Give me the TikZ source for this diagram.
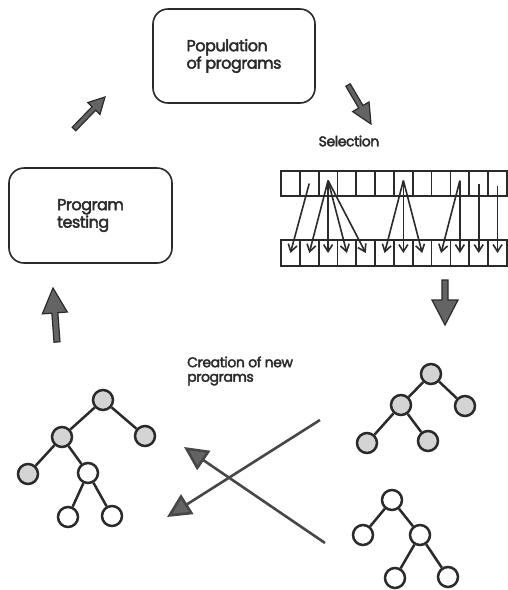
\documentclass[tikz,border=0pt]{standalone}
\usepackage{fontspec}
\setmainfont{Poppins}[FakeBold=2.6, LetterSpace=-3]
\usetikzlibrary{arrows.meta,calc}
\definecolor{ink}{HTML}{2A2A2A}
\definecolor{arrfill}{HTML}{646464}
\definecolor{nodefill}{HTML}{D4D4D4}
\newcommand\blockarr[5]{%
  \coordinate (ba-h) at ($(#2)!#5!(#1)$);
  \filldraw[blockarrow] ($(#1)!#3!90:(#2)$) -- ($(ba-h)!#3!90:(#2)$) -- ($(ba-h)!#4!90:(#2)$) -- (#2)
    -- ($(ba-h)!#4!-90:(#2)$) -- ($(ba-h)!#3!-90:(#2)$) -- ($(#1)!#3!-90:(#2)$) -- cycle;}
\begin{document}
\begin{tikzpicture}[x=1pt,y=-1pt,
  procbox/.style={draw=ink, line width=1.6pt, rounded corners=15pt, align=left, text=ink,
    font=\fontsize{16}{14.5}\selectfont},
  lbl/.style={text=ink, align=left, inner sep=0pt, font=\fontsize{14}{14.5}\selectfont},
  cell/.style={draw=ink, line width=1.7pt, rectangle, minimum width=18.83pt, inner sep=0pt},
  selarrow/.style={draw=ink, line width=1.6pt, -{Straight Barb[length=7pt,width=9pt]}},
  blockarrow/.style={fill=arrfill, draw=ink, line width=1.2pt, line join=miter},
  crossarrow/.style={draw=black!72, line width=2.6pt, -{Triangle[length=24pt,width=23pt,fill=arrfill]}},
  tnode/.style={circle, minimum size=20pt, inner sep=0pt, draw=ink, line width=2.5pt},
  gnode/.style={tnode, fill=nodefill},
  wnode/.style={tnode, fill=white},
  edge/.style={draw=ink, line width=2.5pt}]
\useasboundingbox (0,0) rectangle (508,590);
\fill[white] (0,0) rectangle (508,590);

% boxes
\node[procbox, minimum width=162pt, minimum height=94pt] (pop) at (234,56) {Population\\of programs};
\node[procbox, minimum width=163pt, minimum height=95pt] (test) at (90.5,215.5) {Program\\testing};

% labels
\node[lbl] (sel) at (349,141) {Selection};
\node[lbl, anchor=west] (crea) at (187,371) {Creation of new\\programs};

% selection array
\foreach \i in {0,...,11} {
  \node[cell, minimum height=25pt] (t\i) at ({281+18.83*(\i+0.5)},183.5) {};
  \node[cell, minimum height=26pt] (b\i) at ({281+18.83*(\i+0.5)},253) {};
}
\draw[selarrow] ([yshift=0pt]t1.center) -- (b0.center);
\foreach \j in {1,2,3,4} \draw[selarrow] ([yshift=3pt]t2.center) -- (b\j.center);
\foreach \j in {5,6,7} \draw[selarrow] ([yshift=3pt]t6.center) -- (b\j.center);
\foreach \j in {8,9} \draw[selarrow] ([yshift=3pt]t9.center) -- (b\j.center);
\draw[selarrow] (t10.center) -- (b10.center);
\draw[selarrow] ([yshift=-2pt]t11.center) -- (b11.center);

% block arrows
\coordinate (a1s) at (74,129); \coordinate (a1e) at (105,97);
\coordinate (a2s) at (348,85); \coordinate (a2e) at (371,124);
\coordinate (a3s) at (445,280); \coordinate (a3e) at (445,325);
\coordinate (a4s) at (57,342); \coordinate (a4e) at (53,288);
\blockarr{a1s}{a1e}{2.5pt}{8.5pt}{16pt}
\blockarr{a2s}{a2e}{2.5pt}{9.5pt}{20pt}
\blockarr{a3s}{a3e}{3pt}{13pt}{25pt}
\blockarr{a4s}{a4e}{3pt}{12.5pt}{25pt}

% right trees
\node[gnode] (r1) at (431,374) {};
\node[gnode] (r2) at (401,405) {};
\node[gnode] (r3) at (465,406) {};
\node[gnode] (r4) at (367,443) {};
\node[gnode] (r5) at (428,441) {};
\draw[edge] (r1) -- (r2); \draw[edge] (r1) -- (r3);
\draw[edge] (r2) -- (r4); \draw[edge] (r2) -- (r5);

\node[wnode] (w1) at (392,500) {};
\node[wnode] (w2) at (363,535) {};
\node[wnode] (w3) at (420,535) {};
\node[wnode] (w4) at (395,578) {};
\node[wnode] (w5) at (448,577) {};
\draw[edge] (w1) -- (w2); \draw[edge] (w1) -- (w3);
\draw[edge] (w3) -- (w4); \draw[edge] (w3) -- (w5);

% left tree
\node[gnode] (l1) at (103,400) {};
\node[gnode] (l2) at (62,437) {};
\node[gnode] (l3) at (145,436) {};
\node[gnode] (l4) at (28,474) {};
\node[wnode] (l5) at (88,473) {};
\node[wnode] (l6) at (68,517) {};
\node[wnode] (l7) at (112,516) {};
\draw[edge] (l1) -- (l2); \draw[edge] (l1) -- (l3);
\draw[edge] (l2) -- (l4); \draw[edge] (l2) -- (l5);
\draw[edge] (l5) -- (l6); \draw[edge] (l5) -- (l7);

% crossing arrows
\coordinate (c1s) at (320,420); \coordinate (c1e) at (167,517);
\coordinate (c2s) at (325,543); \coordinate (c2e) at (184,447);
\draw[crossarrow] (c1s) -- (c1e);
\draw[crossarrow] (c2s) -- (c2e);
\end{tikzpicture}
\end{document}
